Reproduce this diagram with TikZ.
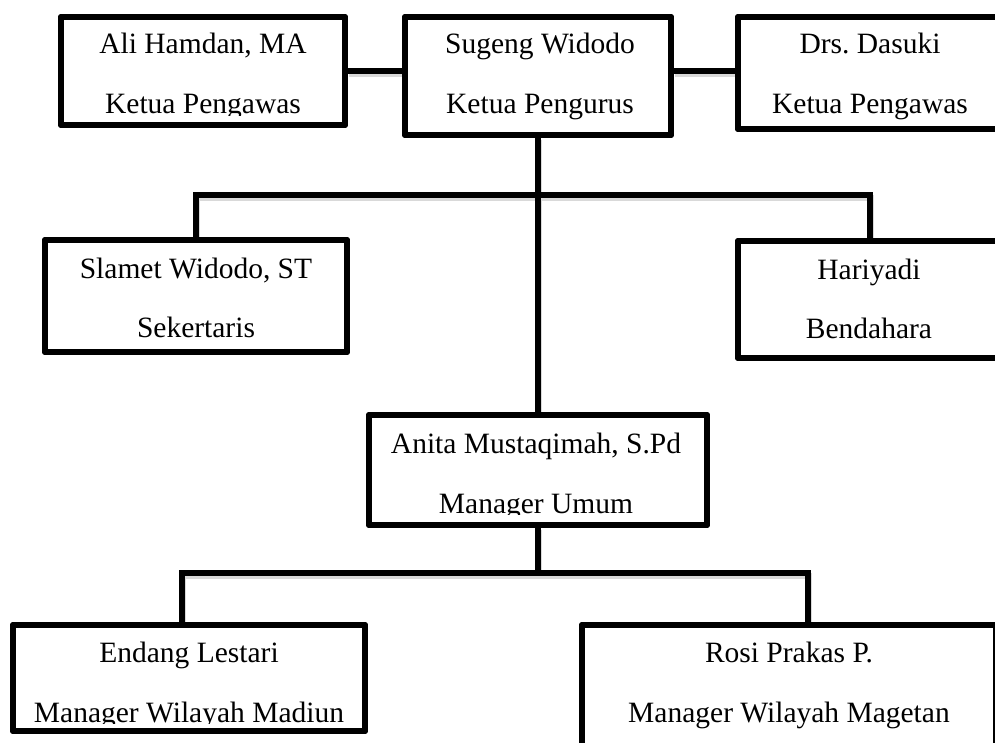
\documentclass[tikz,border=0pt]{standalone}
\usepackage{fontspec}
\setmainfont{Liberation Serif}
\frenchspacing
\begin{document}
\begin{tikzpicture}[x=1pt,y=-1pt,
  orgbox/.style={draw=black, fill=white, line width=5.5pt, rectangle, inner sep=0pt, line join=round},
  txt/.style={font=\fontsize{29.5}{29.5}\selectfont, anchor=base, inner sep=0pt, text=black},
  conn/.style={line width=5.5pt, line join=miter, draw=black},
  connshadow/.style={draw=black!15, line width=6pt, transform canvas={shift={(1pt,-2.5pt)}}}]
\useasboundingbox (0,0) rectangle (995,742);
\clip (0,0) rectangle (995,742);
\fill[white] (0,0) rectangle (995,742);

% coordinates for connector joints
\coordinate (b1) at (538,195);
\coordinate (b2) at (538,573);
\coordinate (ed) at (182,600);
\coordinate (rd) at (808,600);

% boxes
\node[orgbox, minimum width=284, minimum height=108] (ali) at (203,71) {};
\node[orgbox, minimum width=266, minimum height=118] (sugeng) at (538,76) {};
\node[orgbox, minimum width=264, minimum height=112] (dasuki) at (870,73) {};
\node[orgbox, minimum width=302, minimum height=112] (slamet) at (196,296) {};
\node[orgbox, minimum width=264, minimum height=117] (hari) at (870,299.5) {};
\node[orgbox, minimum width=338, minimum height=110] (anita) at (538,470) {};
\node[orgbox, minimum width=352, minimum height=106] (endang) at (189,678) {};
\node[orgbox, minimum width=414, minimum height=140] (rosi) at (789,695) {};

% connectors: shadows first, then lines
\foreach \st in {connshadow,conn}{
  \draw[\st] (ali.east) -- (ali.east -| sugeng.west);
  \draw[\st] (sugeng.east |- ali.east) -- (dasuki.west |- ali.east);
  \draw[\st] (slamet.north) |- (b1) -| (hari.north);
  \draw[\st] (endang.north -| ed) |- (b2) -| (rosi.north -| rd);
  \draw[\st] (sugeng.south) -- (anita.north);
  \draw[\st] (anita.south) -- (b2);
}

% redraw boxes over connector shadows
\foreach \n in {ali,sugeng,dasuki,slamet,hari,anita,endang,rosi}{
  \draw[line width=5.5pt, line join=round, fill=white] ([shift={(2.75pt,-2.75pt)}]\n.north west) rectangle ([shift={(-2.75pt,2.75pt)}]\n.south east);
}

% texts
\node[txt] (aliT1) at (203,53) {Ali Hamdan, MA};
\begin{scope}
\clip (60,90) rectangle (346,115);
\node[txt] (aliT2) at (203,113) {Ketua Pengawas};
\end{scope}
\node[txt] (sugT1) at (540,53) {Sugeng Widodo};
\node[txt] (sugT2) at (540,113) {Ketua Pengurus};
\node[txt] (dasT1) at (870,53) {Drs. Dasuki};
\node[txt] (dasT2) at (870,113) {Ketua Pengawas};
\node[txt] (slaT1) at (196,278) {Slamet Widodo, ST};
\node[txt] (slaT2) at (196,337) {Sekertaris};
\node[txt] (harT1) at (869,279) {Hariyadi};
\node[txt] (harT2) at (869,338) {Bendahara};
\node[txt] (aniT1) at (536,453) {Anita Mustaqimah, S.Pd};
\begin{scope}
\clip (368,480) rectangle (706,514);
\node[txt] (aniT2) at (536,513) {Manager Umum};
\end{scope}
\node[txt] (endT1) at (189,662) {Endang Lestari};
\begin{scope}
\clip (14,690) rectangle (364,723);
\node[txt] (endT2) at (189,722) {Manager Wilayah Madiun};
\end{scope}
\node[txt] (rosT1) at (789,662) {Rosi Prakas P.};
\node[txt] (rosT2) at (789,722) {Manager Wilayah Magetan};
\end{tikzpicture}
\end{document}
